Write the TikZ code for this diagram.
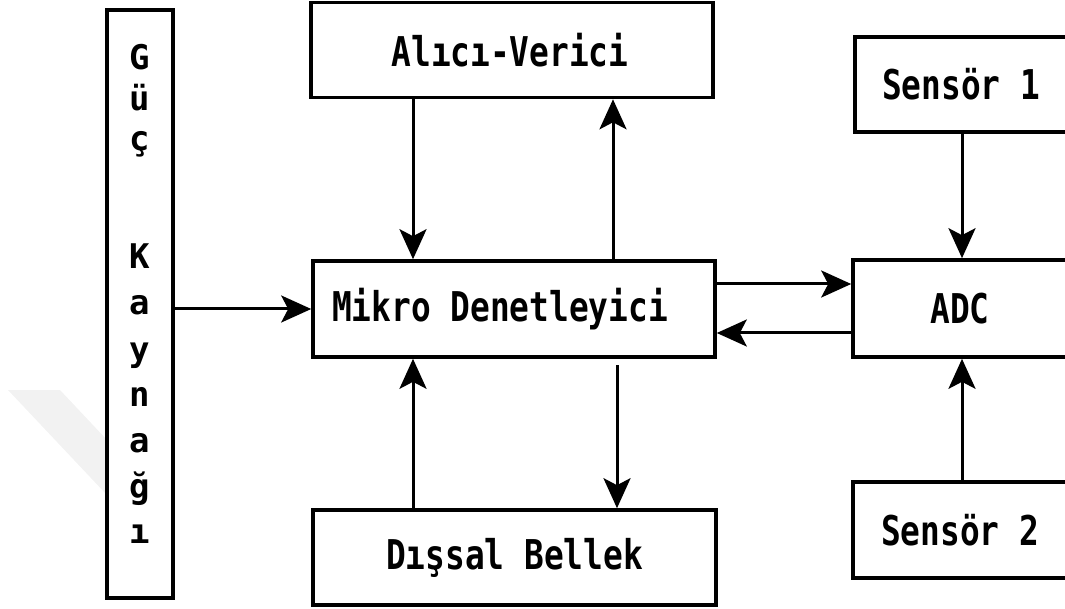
\documentclass[tikz,border=0pt]{standalone}
\usepackage{fontspec}
\newfontfamily\boxfont{DejaVu Sans Mono}[FakeStretch=0.8]
\newfontfamily\colfont{DejaVu Sans Mono}
\usetikzlibrary{arrows.meta,calc}
\begin{document}
\begin{tikzpicture}[x=1pt,y=-1pt,
  box/.style={draw,line width=3.6pt,inner sep=0pt,font=\boxfont\bfseries\fontsize{41}{44}\selectfont},
  arr/.style={line width=3pt,-{Stealth[length=30pt,width=27pt,inset=7pt]}},
  letter/.style={font=\colfont\bfseries\fontsize{34}{36}\selectfont,inner sep=0pt,anchor=base}]
\useasboundingbox (0,0) rectangle (1065,609);
\clip (0,0) rectangle (1065,609);
% faint background band
\fill[gray!10] (8,390) -- (60,390) -- (107,440) -- (107,495) -- cycle;
% blocks
\node[box,minimum width=66,minimum height=588] (power) at (140,304) {};
\node[box,minimum width=402,minimum height=95] (alici) at (512,50) {\hspace*{-4pt}Alıcı-Verici};
\node[box,minimum width=402,minimum height=96] (mikro) at (514,309) {\hspace*{-28pt}Mikro Denetleyici};
\node[box,minimum width=403,minimum height=95] (bellek) at (514.5,557.5) {Dışsal Bellek};
\node[box,minimum width=212,minimum height=95] (s1) at (961,84.5) {Sensör 1};
\node[box,minimum width=214,minimum height=97] (adc) at (960,308.5) {ADC};
\node[box,minimum width=214,minimum height=96] (s2) at (960,530) {Sensör 2};
% vertical label of the power supply
\foreach \ch/\yy [count=\i] in {G/70,ü/111,ç/151,K/269,a/315,y/361,n/406,a/452,ğ/498,ı/543}
  \node[letter] (p\i) at (140,\yy) {\ch};
% connector positions
\coordinate (xl) at (413,0);
\coordinate (xr) at (613,0);
\coordinate (xd) at (617,0);
\coordinate (xs) at (962,0);
\coordinate (yp) at (0,309);
\coordinate (yu) at (0,284);
\coordinate (yl) at (0,333);
\coordinate (md) at (617,365);
% connectors
\draw[arr] (alici.south -| xl) -- (mikro.north -| xl);
\draw[arr] (mikro.north -| xr) -- (alici.south -| xr);
\draw[arr] (power.east |- yp) -- (mikro.west |- yp);
\draw[arr] (mikro.east |- yu) -- (adc.west |- yu);
\draw[arr] (adc.west |- yl) -- (mikro.east |- yl);
\draw[arr] (bellek.north -| xl) -- (mikro.south -| xl);
\draw[arr] (md) -- (bellek.north -| xd);
\draw[arr] (s1.south -| xs) -- (adc.north -| xs);
\draw[arr] (s2.north -| xs) -- (adc.south -| xs);
\end{tikzpicture}
\end{document}
